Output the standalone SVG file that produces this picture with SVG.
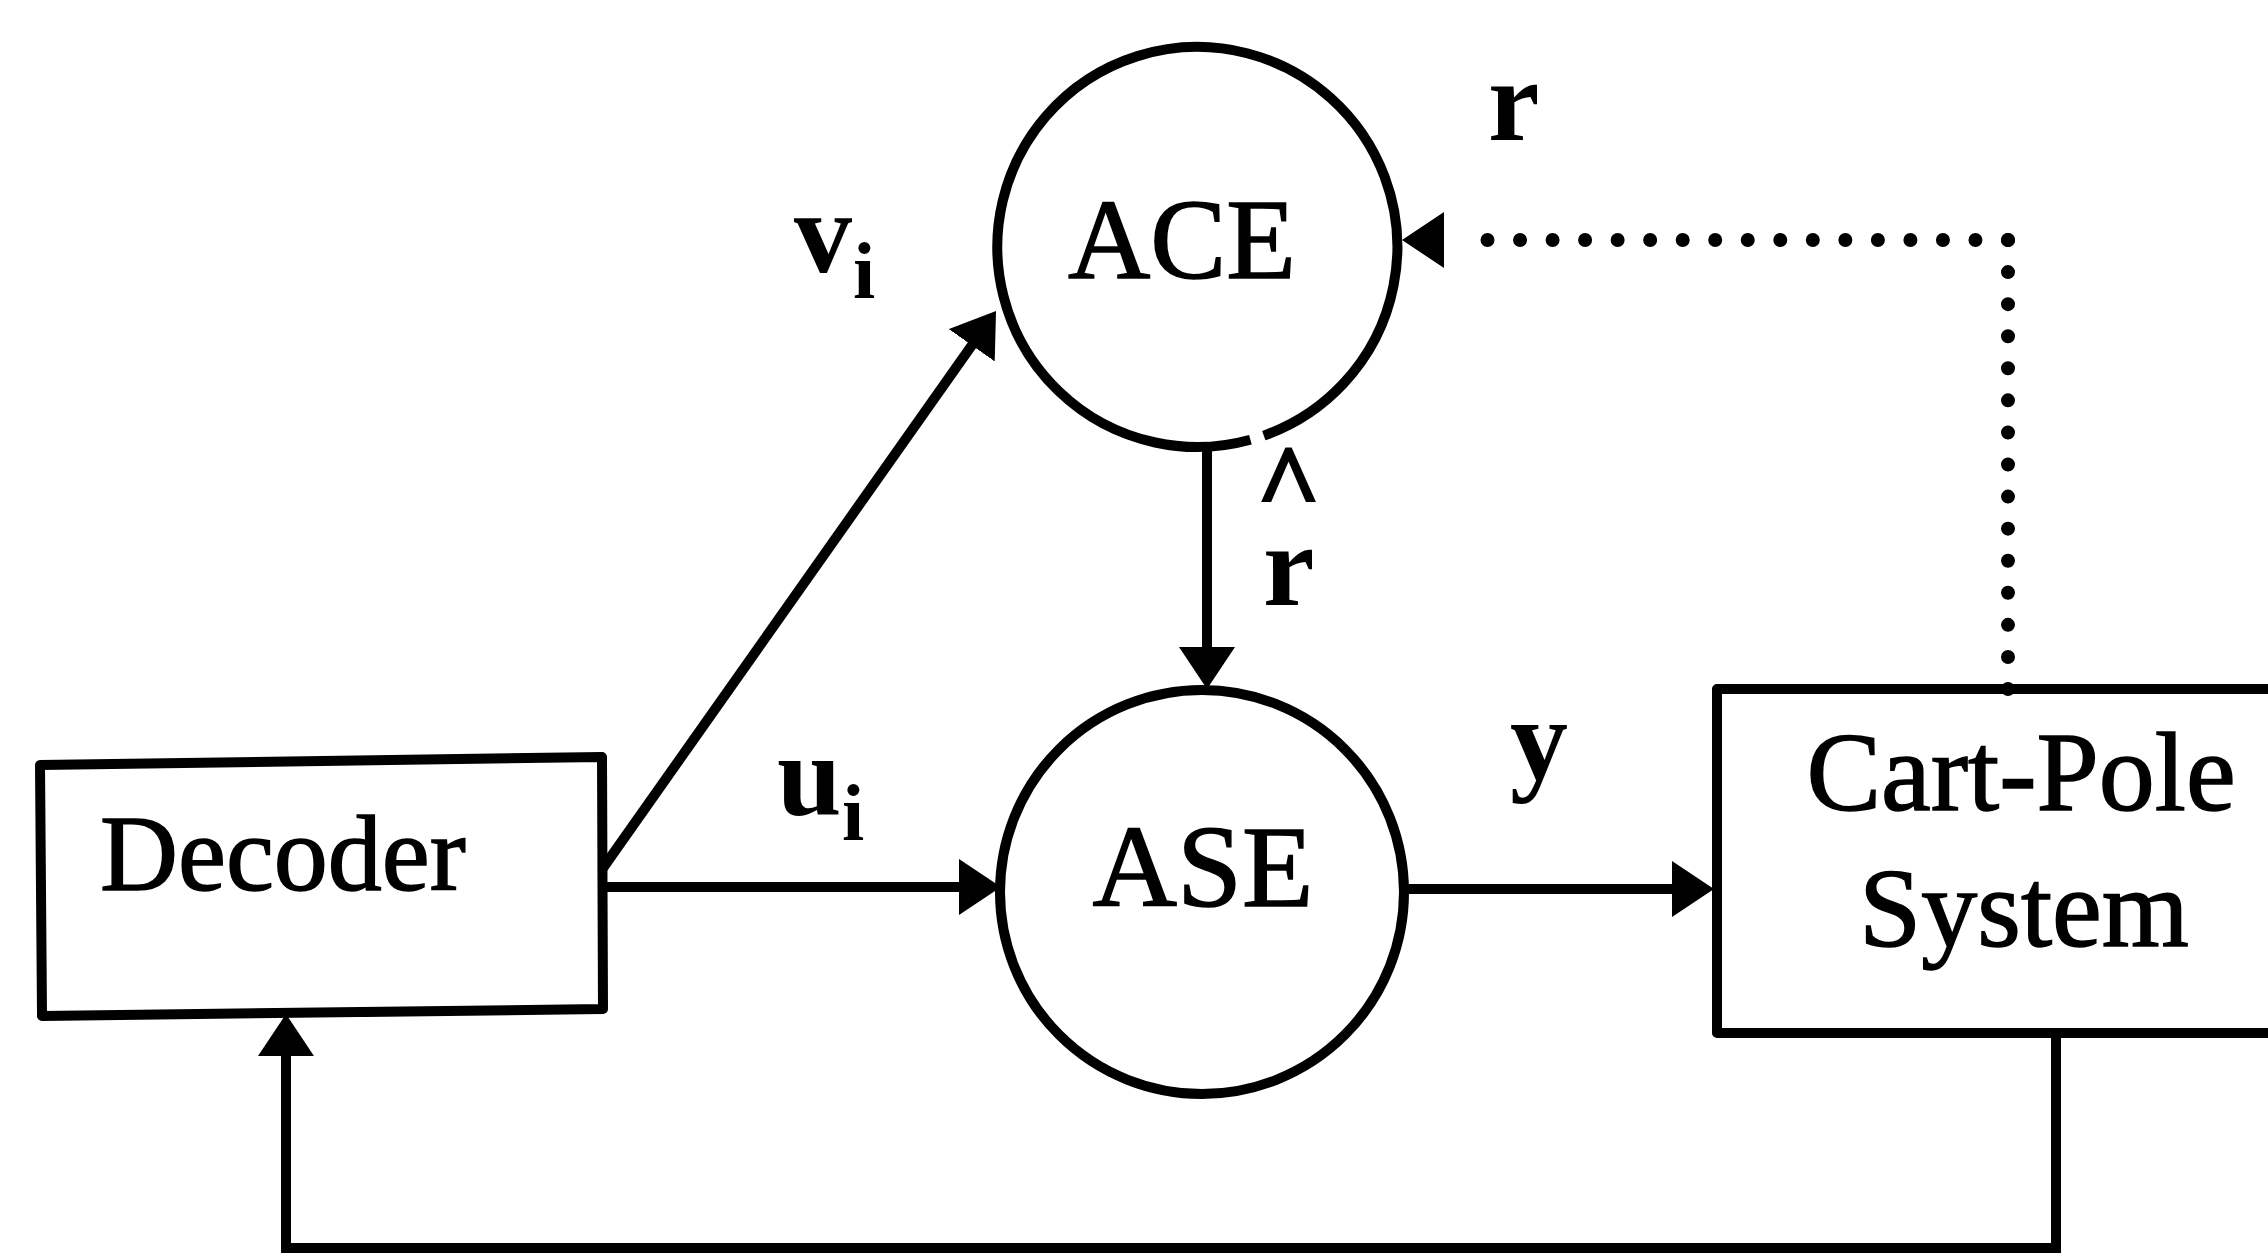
<svg xmlns="http://www.w3.org/2000/svg" width="2268" height="1260" viewBox="0 0 2268 1260">
  <style>
    .box { fill: none; stroke: #000; stroke-width: 10; stroke-linejoin: round; }
    .node-circle { fill: none; stroke: #000; stroke-width: 10; }
    .title { font-family: "Liberation Serif", "Times New Roman", serif; fill: #000; stroke: #000; stroke-width: 1.5; }
    .lbl { font-family: "Liberation Serif", "Times New Roman", serif; font-weight: bold; fill: #000; }
    .sub { font-size: 80px; }
    .wire { fill: none; stroke: #000; stroke-width: 10; }
    .dots { fill: none; stroke: #000; stroke-width: 14; stroke-linecap: round; }
  </style>
  <defs>
    <marker id="head" viewBox="0 0 42 56" refX="22" refY="28" markerWidth="42" markerHeight="56" markerUnits="userSpaceOnUse" orient="auto">
      <path d="M0,0 L42,28 L0,56 Z" fill="#000"/>
    </marker>
  </defs>
  <rect width="2268" height="1260" fill="#fff"/>

  <!-- connectors -->
  <g id="connectors">
    <!-- Decoder -> ACE (v_i) -->
    <path class="wire" d="M603,868 L984.5,327.3" marker-end="url(#head)"/>
    <!-- Decoder -> ASE (u_i) -->
    <path class="wire" d="M602,887 L981,887" marker-end="url(#head)"/>
    <!-- ACE -> ASE (r-hat) -->
    <path class="wire" d="M1207,447 L1207,669" marker-end="url(#head)"/>
    <!-- ASE -> Cart-Pole (y) -->
    <path class="wire" d="M1404,889 L1694,889" marker-end="url(#head)"/>
    <!-- Cart-Pole state feedback -> Decoder -->
    <path class="wire" d="M2056,1033 L2056,1248 L286,1248 L286,1034" marker-end="url(#head)"/>
    <!-- Cart-Pole reinforcement r -> ACE (dotted) -->
    <path class="dots" d="M2008,689 L2008,240" stroke-dasharray="0 32.07"/>
    <path class="dots" d="M2008,240 L1455,240" stroke-dasharray="0 32.53"/>
    <path class="wire" d="M1444,240 L1422,240" marker-end="url(#head)"/>
  </g>

  <g id="decoder">
    <path class="box" d="M40,765 L602,757 L603,1009 L42,1016 Z"/>
    <text class="title" x="100" y="890" font-size="108">Decoder</text>
  </g>

  <g id="ace">
    <!-- circle with a small break on the lower right -->
    <path class="node-circle" d="M1250.4,439.8 A200,200 0 1 1 1263.8,435.6"/>
    <text class="title" x="1182" y="278" font-size="114" text-anchor="middle">ACE</text>
  </g>

  <g id="ase">
    <circle class="node-circle" cx="1202" cy="892" r="202"/>
    <text class="title" x="1203" y="906" font-size="117" text-anchor="middle">ASE</text>
  </g>

  <g id="cart-pole">
    <rect class="box" x="1717" y="689" width="600" height="344"/>
    <text class="title" x="2021" y="810" font-size="112" text-anchor="middle">Cart-Pole</text>
    <text class="title" x="2024" y="946" font-size="112" text-anchor="middle">System</text>
  </g>

  <g id="labels">
    <text class="lbl" x="794" y="272" font-size="116">v<tspan class="sub" x="853" y="298">i</tspan></text>
    <text class="lbl" x="777" y="815" font-size="116">u<tspan class="sub" x="842" y="840">i</tspan></text>
    <text class="lbl" x="1510" y="779" font-size="116">y</text>
    <text class="lbl" x="1488" y="140" font-size="116">r</text>
    <!-- r with a hat: caret set above the letter -->
    <text class="lbl" font-size="112"><tspan x="1256" y="522" stroke="#000" stroke-width="2">^</tspan><tspan x="1263" y="605" font-size="116">r</tspan></text>
  </g>
</svg>
